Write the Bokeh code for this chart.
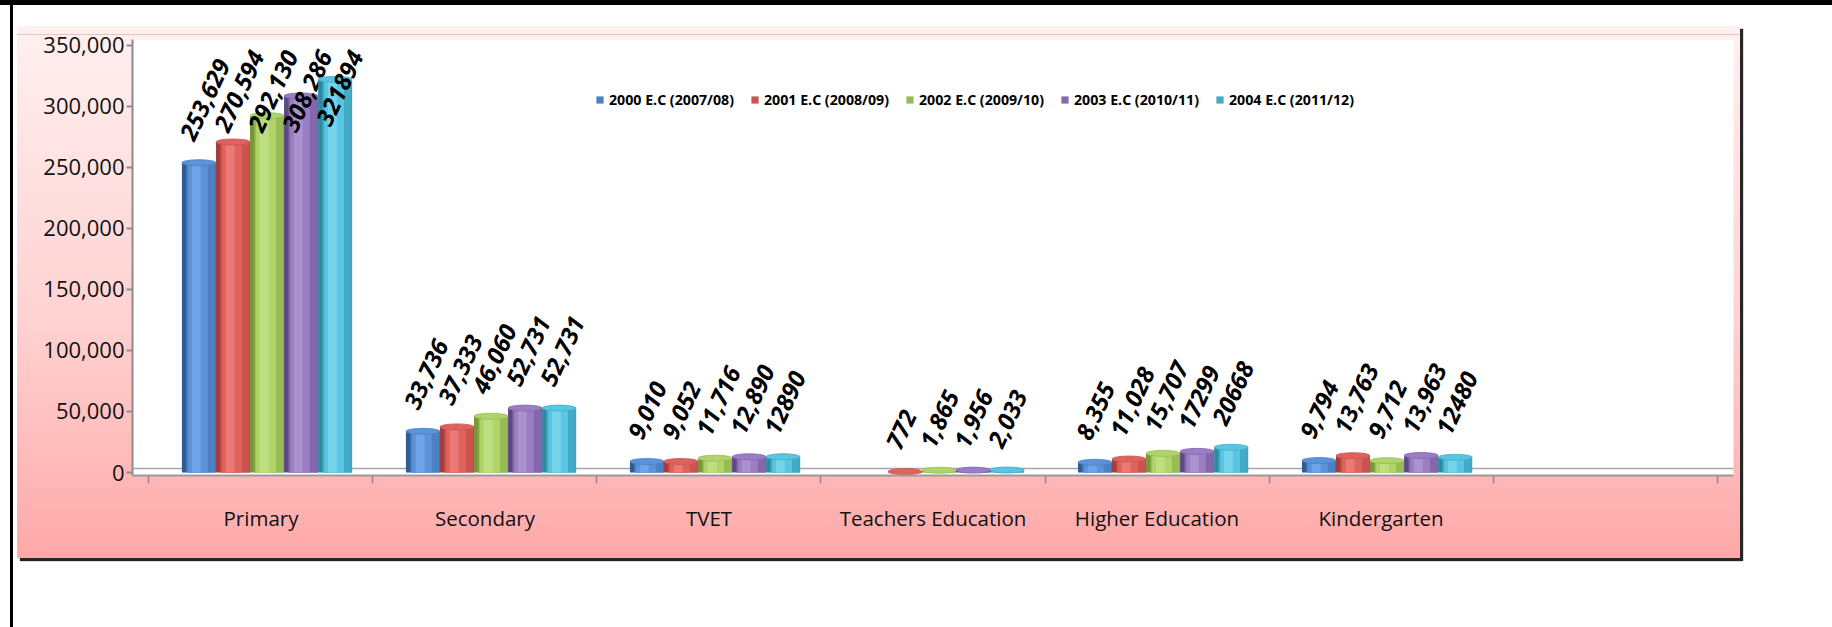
import math
from bokeh.plotting import figure
from bokeh.models import (ColumnDataSource, Range1d, LinearAxis, FixedTicker, SingleIntervalTicker,
                          NumeralTickFormatter, Legend, LegendItem, Span, Div)
from bokeh.layouts import column, row
from bokeh.transform import dodge
from bokeh.core.properties import value
from bokeh.embed import file_html
from bokeh.resources import INLINE

nan = float("nan")

# ---------------- data ----------------
categories = ["Primary", "Secondary", "TVET", "Teachers Education",
              "Higher Education", "Kindergarten"]
n_slots = 7  # the chart keeps one empty category slot on the right

series_names = ["2000 E.C (2007/08)", "2001 E.C (2008/09)", "2002 E.C (2009/10)",
                "2003 E.C (2010/11)", "2004 E.C (2011/12)"]

y2000 = [253629, 33736, 9010, nan, 8355, 9794]
y2001 = [270594, 37333, 9052, 772, 11028, 13763]
y2002 = [292130, 46060, 11716, 1865, 15707, 9712]
y2003 = [308286, 52731, 12890, 1956, 17299, 13963]
y2004 = [321894, 52731, 12890, 2033, 20668, 12480]

labels2000 = ["253,629", "33,736", "9,010", "", "8,355", "9,794"]
labels2001 = ["270,594", "37,333", "9,052", "772", "11,028", "13,763"]
labels2002 = ["292,130", "46,060", "11,716", "1,865", "15,707", "9,712"]
labels2003 = ["308,286", "52,731", "12,890", "1,956", "17299", "13,963"]
labels2004 = ["321894", "52,731", "12890", "2,033", "20668", "12480"]

y_ticks_step = 50000

series_values = [y2000, y2001, y2002, y2003, y2004]
series_labels = [labels2000, labels2001, labels2002, labels2003, labels2004]

# category slot centres on the numeric x scale (slot k spans k..k+1)
slot_centres = [k + 0.5 for k in range(len(categories))]
slot_bounds = list(range(n_slots + 1))

# ---------------- styles ----------------
# (dark edge, body, centre, highlight)
tones = [
    ("#2F5C93", "#4B80C4", "#5B93DB", "#79ABEB"),
    ("#A23F3B", "#CC5450", "#E0625E", "#EC837F"),
    ("#78973A", "#98BC55", "#B0D46A", "#C6E38C"),
    ("#5C4983", "#8468AE", "#9A7DC2", "#B29BD3"),
    ("#2C89A2", "#44AAC6", "#58C6E2", "#82D8EE"),
]
BAR_W = 0.152
GROUP_SHIFT = 0.027
PAD = 0.0735
Y_START, Y_END = -2456, 354503
FRAME_H = 436
LABEL_PX = 24
LABEL_ANGLE = 65
FONT = "Open Sans"

p = figure(x_range=Range1d(-PAD, n_slots + PAD),
           y_range=Range1d(Y_START, Y_END),
           width=1723, height=532, min_border_left=115, min_border_right=7,
           min_border_top=13, min_border_bottom=83,
           output_backend="svg", toolbar_location=None, x_axis_location=None,
           background_fill_color="white", border_fill_alpha=0, outline_line_color=None)
p.margin = 0
p.styles = {
    "background": "linear-gradient(to bottom, transparent 8px, #E6C4C4 8px, #E6C4C4 9px, transparent 9px),"
                  " linear-gradient(to bottom, #FFF0F0 0%, #FFD2D2 55%, #FFB4B4 88%, #FFA8A8 100%)",
    "box-shadow": "3px 3px 1px rgba(0,0,0,0.85)",
}
p.xgrid.visible = False
p.ygrid.visible = False

# y axis
yax = p.yaxis[0]
yax.ticker = SingleIntervalTicker(interval=y_ticks_step, num_minor_ticks=0)
yax.formatter = NumeralTickFormatter(format="0,0")
yax.major_label_text_font = FONT
yax.major_label_text_font_size = "22px"
yax.major_label_text_color = "#111111"
yax.axis_line_color = "#8C8C8C"
yax.axis_line_width = 2
yax.major_tick_line_color = "#8C8C8C"
yax.major_tick_line_width = 2
yax.major_tick_out = 6
yax.major_tick_in = 0
yax.minor_tick_line_color = None
yax.major_label_standoff = 2

# x axis: labels at slot centres, tick marks (minor) at slot boundaries
cat_axis = LinearAxis(ticker=FixedTicker(ticks=slot_centres, minor_ticks=slot_bounds),
                      major_label_overrides={c: name for c, name in zip(slot_centres, categories)},
                      axis_line_color="#9A9A9A", axis_line_width=2,
                      major_tick_line_color=None, major_tick_out=8, major_tick_in=0,
                      minor_tick_line_color="#9A9A9A", minor_tick_line_width=2,
                      minor_tick_out=8, minor_tick_in=0,
                      major_label_text_font=FONT, major_label_text_font_size="20.5px",
                      major_label_text_color="#111111", major_label_standoff=20)
p.add_layout(cat_axis, "below")

# floor back edge
p.add_layout(Span(location=3300, dimension="width", line_color="#A8A8A8", line_width=1.5,
                  level="underlay"))

ppu = FRAME_H / (Y_END - Y_START)
sin_a = math.sin(math.radians(LABEL_ANGLE))


def label_offsets(vals, labs):
    out = []
    for v, lab in zip(vals, labs):
        w = sum(0.28 if c == "," else 0.572 for c in lab) * LABEL_PX
        rise = w * sin_a + 7
        top_px = (Y_END - v) * ppu
        start = top_px - 24
        if start - rise < 3:
            start = 3 + rise
        out.append(start - top_px)
    return out


legend_items = []
for i, (vals, labs, name, tone) in enumerate(zip(series_values, series_labels, series_names, tones)):
    src = ColumnDataSource(dict(xc=slot_centres, val=vals))
    keep = [k for k, lab in enumerate(labs) if lab]
    lab_vals = [vals[k] for k in keep]
    lab_txt = [labs[k] for k in keep]
    lab_src = ColumnDataSource(dict(xc=[slot_centres[k] for k in keep], val=lab_vals,
                                    lab=lab_txt, yoff=label_offsets(lab_vals, lab_txt)))
    off = (i - 2) * BAR_W + GROUP_SHIFT
    dark, body, centre, hi = tone
    p.vbar(x=dodge("xc", off), top="val", bottom=0, width=BAR_W,
           source=src, fill_color=dark, line_color=None)
    r_body = p.vbar(x=dodge("xc", off + 0.06 * BAR_W), top="val", bottom=0,
                    width=0.86 * BAR_W, source=src, fill_color=body, line_color=None)
    p.vbar(x=dodge("xc", off - 0.03 * BAR_W), top="val", bottom=0,
           width=0.58 * BAR_W, source=src, fill_color=centre, line_color=None)
    p.vbar(x=dodge("xc", off - 0.08 * BAR_W), top="val", bottom=0,
           width=0.26 * BAR_W, source=src, fill_color=hi, line_color=None, fill_alpha=0.7)
    p.ellipse(x=dodge("xc", off), y="val", width=BAR_W, height=6,
              height_units="screen", source=src, fill_color=centre, line_color=body,
              line_width=0.8)
    p.text(x=dodge("xc", off), y="val", text="lab", source=lab_src,
           angle=LABEL_ANGLE, angle_units="deg", text_align="left", text_baseline="alphabetic",
           x_offset=-12, y_offset="yoff", text_font=value(FONT), text_font_style="bold italic",
           text_font_size=f"{LABEL_PX}px", text_color="black")
    legend_items.append(LegendItem(label=name, renderers=[r_body]))

legend = Legend(items=legend_items, orientation="horizontal", location=(463, 366.5),
                glyph_width=9, glyph_height=9, label_standoff=5, spacing=16, padding=0,
                margin=0, border_line_color=None, background_fill_alpha=0,
                label_text_font=FONT, label_text_font_style="bold",
                label_text_font_size="14.2px", label_text_color="black")
p.add_layout(legend, "center")

top_div = Div(text="", width=1832, height=26, margin=0, styles={
    "background": "linear-gradient(to right, transparent 10px, #000 10px, #000 13px, transparent 13px),"
                  " linear-gradient(to bottom, #000 0px, #000 5px, #fff 5px, #fff 100%)"})
left_div = Div(text="", width=17, height=601, margin=0, styles={
    "background": "linear-gradient(to right, #fff 10px, #000 10px, #000 13px, #fff 13px)"})

layout = column(top_div, row(left_div, p, spacing=0), spacing=0)

open("out.html", "w").write(file_html(layout, INLINE))
